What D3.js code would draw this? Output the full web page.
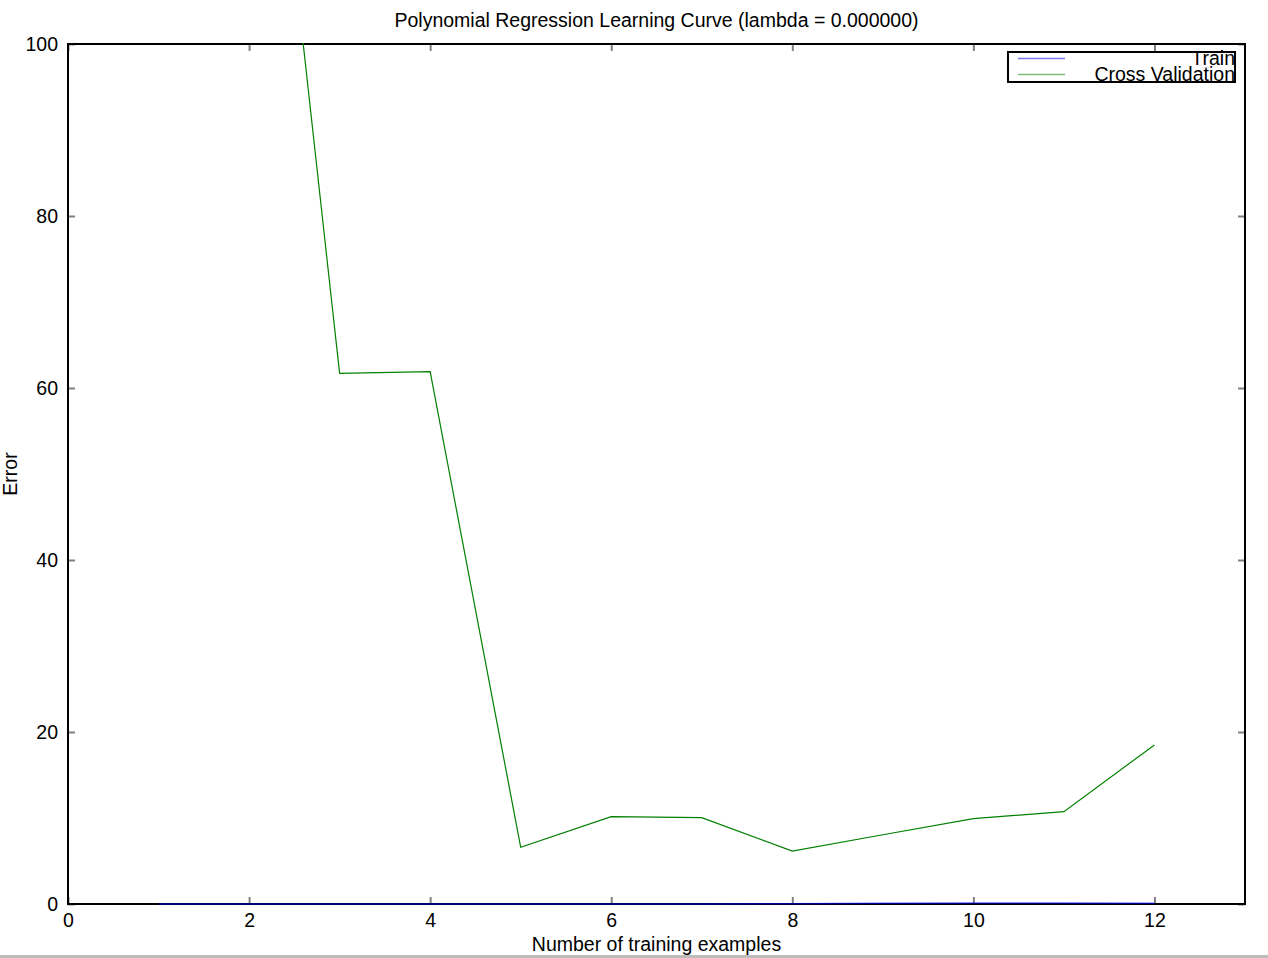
<!DOCTYPE html>
<html>
<head>
<meta charset="utf-8">
<script src="https://cdn.jsdelivr.net/npm/d3@7"></script>
<style>
    html, body { margin: 0; padding: 0; background: #fff; }
    svg { display: block; font-family: "Liberation Sans", Arial, Helvetica, sans-serif; }
</style>
</head>
<body>
<svg id="chart" width="1268" height="958"></svg>
<script>
(function () {
    'use strict';

    // learning curve values
    const trainingExamples = [1, 2, 3, 4, 5, 6, 7, 8, 9, 10, 11, 12];
    const trainError = [0, 0, 0, 0, 0, 0, 0, 0.03, 0.08, 0.12, 0.12, 0.08];
    const cvError = [160, 157, 61.7, 61.9, 6.6, 10.15, 10.05, 6.16, 8.05, 9.92, 10.74, 18.5];
    const xTicks = [0, 2, 4, 6, 8, 10, 12];
    const yTicks = [0, 20, 40, 60, 80, 100];

    const width = 1268;
    const height = 958;
    const margin = { left: 68, right: 23, top: 44, bottom: 54 };
    const plotW = width - margin.left - margin.right;
    const plotH = height - margin.top - margin.bottom;
    const fontSize = 19.5;

    const svg = d3.select('#chart');

    const x = d3.scaleLinear().domain([0, 13]).range([0, plotW]);
    const y = d3.scaleLinear().domain([0, 100]).range([plotH, 0]);

    // screenshot edge line at the bottom
    svg.append('rect')
        .attr('x', 0).attr('y', 955)
        .attr('width', width).attr('height', 3)
        .attr('fill', '#bdbdbd');

    svg.append('defs').append('clipPath').attr('id', 'plot-clip')
        .append('rect').attr('x', -2).attr('y', -1).attr('width', plotW + 4).attr('height', plotH + 3);

    const g = svg.append('g').attr('transform', `translate(${margin.left},${margin.top})`);

    // inward ticks on all four sides
    const tickStyle = (sel) => {
        sel.select('.domain').remove();
        sel.selectAll('.tick line').attr('stroke', '#808080').attr('stroke-width', 2);
        sel.selectAll('.tick text')
            .attr('fill', '#000')
            .attr('font-size', fontSize)
            .attr('font-family', '"Liberation Sans", Arial, Helvetica, sans-serif');
    };

    g.append('g')
        .attr('transform', `translate(0,${plotH})`)
        .call(d3.axisBottom(x).tickValues(xTicks).tickFormat(d3.format('d')).tickSizeInner(-7).tickPadding(9))
        .call(tickStyle);
    g.append('g')
        .call(d3.axisTop(x).tickValues(xTicks).tickFormat('').tickSizeInner(-7))
        .call(tickStyle);
    g.append('g')
        .call(d3.axisLeft(y).tickValues(yTicks).tickFormat(d3.format('d')).tickSizeInner(-7).tickPadding(10))
        .call(tickStyle);
    g.append('g')
        .attr('transform', `translate(${plotW},0)`)
        .call(d3.axisRight(y).tickValues(yTicks).tickFormat('').tickSizeInner(-7))
        .call(tickStyle);

    g.append('rect')
        .attr('width', plotW).attr('height', plotH)
        .attr('fill', 'none')
        .attr('stroke', '#000')
        .attr('stroke-width', 2);

    const line = d3.line()
        .x((d) => x(d[0]))
        .y((d) => y(d[1]));

    const lines = g.append('g').attr('clip-path', 'url(#plot-clip)');
    lines.append('path')
        .datum(trainingExamples.map((n, i) => [n, trainError[i]]))
        .attr('fill', 'none')
        .attr('stroke', '#0000ff')
        .attr('stroke-opacity', 0.6)
        .attr('stroke-width', 1.5)
        .attr('d', line);
    lines.append('path')
        .datum(trainingExamples.map((n, i) => [n, cvError[i]]))
        .attr('fill', 'none')
        .attr('stroke', '#008000')
        .attr('stroke-width', 1.2)
        .attr('d', line);

    svg.append('text')
        .attr('x', margin.left + plotW / 2)
        .attr('y', 27)
        .attr('text-anchor', 'middle')
        .attr('font-size', fontSize)
        .text('Polynomial Regression Learning Curve (lambda = 0.000000)');

    svg.append('text')
        .attr('x', margin.left + plotW / 2)
        .attr('y', 951)
        .attr('text-anchor', 'middle')
        .attr('font-size', fontSize)
        .text('Number of training examples');

    svg.append('text')
        .attr('transform', `translate(17,${margin.top + plotH / 2}) rotate(-90)`)
        .attr('text-anchor', 'middle')
        .attr('font-size', fontSize)
        .text('Error');

    // legend
    const legendItems = [
        { name: 'Train', color: '#7878f5' },
        { name: 'Cross Validation', color: '#7cbf7c' },
    ];
    const lg = svg.append('g').attr('transform', 'translate(1008,52)');
    lg.append('rect')
        .attr('width', 227).attr('height', 30)
        .attr('fill', '#fff')
        .attr('stroke', '#000')
        .attr('stroke-width', 2);
    legendItems.forEach((item, i) => {
        const yy = 6.5 + i * 16;
        lg.append('line')
            .attr('x1', 10).attr('x2', 57)
            .attr('y1', yy).attr('y2', yy)
            .attr('stroke', item.color)
            .attr('stroke-width', 1.5);
        lg.append('text')
            .attr('x', 227)
            .attr('y', yy + 6)
            .attr('text-anchor', 'end')
            .attr('font-size', fontSize)
            .text(item.name);
    });
})();
</script>
</body>
</html>
